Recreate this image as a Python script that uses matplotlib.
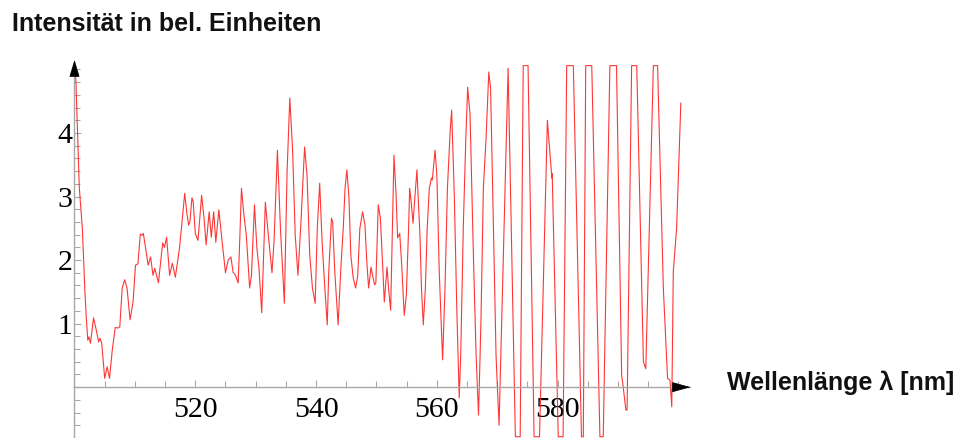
import matplotlib
matplotlib.use("Agg")
import matplotlib.pyplot as plt
from matplotlib.ticker import FixedLocator, MultipleLocator

# ---- data ----
wavelength = [
    500.2, 500.8, 501.3, 501.7, 501.95, 502.2, 502.4, 502.65, 503.15, 503.6,
    504.0, 504.2, 504.5, 505.0, 505.4, 505.8, 506.25, 506.75, 507.2, 507.5,
    507.9, 508.3, 508.7, 509.2, 509.7, 510.1, 510.5, 510.9, 511.2, 511.4,
    512.2, 512.6, 513.0, 513.3, 513.9, 514.6, 514.9, 515.25, 515.75, 516.2,
    516.7, 517.4, 517.8, 518.25, 518.6, 518.9, 519.1, 519.45, 519.65, 520.0,
    520.45, 521.05, 521.45, 521.8, 522.3, 522.65, 523.05, 523.4, 523.9, 524.5,
    525.0, 525.45, 525.9, 526.25, 526.65, 527.1, 527.35, 527.65, 528.0, 528.45,
    529.0, 529.3, 529.8, 530.2, 530.55, 531.0, 531.6, 532.1, 532.7, 533.05,
    533.6, 534.1, 534.75, 535.2, 535.65, 536.1, 536.55, 537.0, 537.5, 538.1,
    538.5, 538.95, 539.4, 539.85, 540.2, 540.6, 541.0, 541.45, 541.85, 542.1,
    542.55, 542.75, 543.1, 543.65, 544.1, 544.5, 544.8, 545.1, 545.45, 545.75,
    546.15, 546.55, 546.9, 547.25, 547.7, 548.1, 548.4, 548.7, 549.1, 549.35,
    549.7, 549.9, 550.3, 550.65, 551.0, 551.3, 551.75, 552.0, 552.35, 552.9,
    553.25, 553.5, 553.85, 554.15, 554.6, 554.95, 555.3, 555.5, 555.75, 556.05,
    556.7, 557.2, 557.45, 557.75, 558.1, 558.4, 558.75, 559.1, 559.25, 559.7,
    560.0, 560.4, 560.95, 561.35, 561.75, 562.2, 562.45, 562.9, 563.3, 563.7,
    563.95, 564.4, 564.8, 565.1, 565.5, 566.05, 566.5, 566.9, 567.3, 567.7,
    568.15, 568.6, 568.9, 569.35, 569.8, 570.3, 571.8, 573.0, 573.8, 574.3,
    575.1, 576.1, 577.0, 578.3, 578.7, 578.95, 579.05, 579.1, 580.1, 580.9,
    581.5, 582.6, 583.95, 584.25, 584.65, 585.65, 587.0, 587.55, 588.65, 589.75,
    590.6, 590.8, 591.3, 591.5, 592.25, 593.1, 594.2, 594.6, 595.85, 596.55,
    597.5, 598.2, 598.6, 598.9, 599.15, 599.7, 600.4,
]
intensity = [
    4.91, 3.13, 2.50, 1.56, 1.09, 0.74, 0.79, 0.69, 1.09, 0.90,
    0.71, 0.77, 0.70, 0.14, 0.32, 0.14, 0.58, 0.94, 0.93, 0.95,
    1.56, 1.69, 1.56, 1.06, 1.34, 1.92, 1.94, 2.41, 2.39, 2.42,
    1.92, 2.05, 1.76, 1.87, 1.64, 2.27, 2.20, 2.36, 1.76, 1.95,
    1.73, 2.20, 2.60, 3.05, 2.74, 2.55, 2.60, 2.98, 2.92, 2.42,
    2.31, 3.02, 2.66, 2.24, 2.76, 2.36, 2.76, 2.28, 2.79, 2.24,
    1.80, 2.00, 2.05, 1.81, 1.76, 1.64, 2.28, 3.13, 2.76, 2.39,
    1.56, 1.76, 2.87, 2.19, 1.87, 1.17, 2.91, 2.39, 1.80, 2.31,
    3.73, 2.50, 1.32, 3.39, 4.55, 3.76, 2.39, 1.76, 2.60, 3.78,
    3.34, 2.08, 1.56, 1.32, 2.50, 3.21, 2.28, 1.56, 0.98, 1.81,
    2.66, 2.60, 1.81, 0.98, 1.87, 2.50, 3.13, 3.42, 2.98, 2.08,
    1.72, 1.56, 1.76, 2.50, 2.76, 2.55, 1.97, 1.56, 1.89, 1.76,
    1.61, 1.64, 2.87, 2.66, 1.97, 1.34, 1.89, 1.56, 1.21, 3.65,
    3.02, 2.35, 2.42, 1.97, 1.13, 1.45, 2.44, 3.13, 2.91, 2.58,
    3.42, 2.39, 1.56, 0.98, 1.56, 2.50, 3.13, 3.29, 3.26, 3.73,
    3.34, 1.81, 0.43, 1.56, 3.13, 4.02, 4.36, 2.98, 1.24, -0.17,
    0.50, 2.60, 3.92, 4.72, 4.28, 2.08, 0.50, -0.44, 1.02, 3.13,
    3.92, 4.96, 4.70, 2.60, 0.50, -0.60, 5.02, -0.78, -0.78, 5.06,
    5.06, -0.78, -0.78, 4.20, 3.71, 3.42, 3.29, 3.36, -0.78, -0.78,
    5.06, 5.06, -0.78, -0.78, 5.06, 5.06, -0.78, -0.78, 5.06, 5.06,
    0.19, 0.05, -0.36, -0.36, 5.06, 5.06, 0.40, 0.29, 5.06, 5.06,
    1.56, 0.14, 0.11, -0.31, 1.82, 2.50, 4.47,
]
x_major = [520, 540, 560, 580]
y_major = [1, 2, 3, 4]
x_label = "Wellenlänge λ [nm]"
y_label = "Intensität in bel. Einheiten"

W, H = 959, 438
fig = plt.figure(figsize=(W / 100, H / 100), dpi=100)
ax = fig.add_axes([74.5 / W, 0, 616 / W, 373 / H])
ax.set_xlim(500, 602)
ax.set_ylim(-0.8, 5.07)

ax.plot(wavelength, intensity, color="#ff2020", lw=0.8, alpha=0.9,
        solid_joinstyle="round")

axis_gray = "#a8a8a8"
for s in ("top", "right"):
    ax.spines[s].set_visible(False)
ax.spines["bottom"].set_position(("data", 0))
ax.spines["left"].set_position(("data", 500))
for s in ("bottom", "left"):
    ax.spines[s].set_color(axis_gray)
    ax.spines[s].set_linewidth(1.0)

ax.xaxis.set_major_locator(FixedLocator(x_major))
ax.xaxis.set_minor_locator(MultipleLocator(5))
ax.yaxis.set_major_locator(FixedLocator(y_major))
ax.yaxis.set_minor_locator(MultipleLocator(0.2))

ax.tick_params(axis="both", which="major", direction="in", length=5,
               width=0.8, color=axis_gray, labelsize=21.5, labelcolor="black")
ax.tick_params(axis="both", which="minor", direction="in", length=4,
               width=0.8, color=axis_gray)
ax.tick_params(axis="x", which="major", pad=7)
ax.tick_params(axis="y", which="major", pad=1.5)
for lab in ax.get_xticklabels() + ax.get_yticklabels():
    lab.set_fontfamily("Liberation Serif")

# axis arrows
ax.annotate("", xy=(602, 0), xytext=(599.2, 0), xycoords="data",
            arrowprops=dict(arrowstyle="-|>,head_length=1.2,head_width=0.33",
                            fc="black", ec="black", lw=0.5,
                            shrinkA=0, shrinkB=0),
            annotation_clip=False)
ax.annotate("", xy=(500, 5.15), xytext=(500, 4.92), xycoords="data",
            arrowprops=dict(arrowstyle="-|>,head_length=1.1,head_width=0.33",
                            fc="black", ec="black", lw=0.5,
                            shrinkA=0, shrinkB=0),
            annotation_clip=False)

label_font = dict(family="Liberation Sans", weight="bold", size=18, color="#111111")
fig.text(12 / W, 1 - 31 / H, y_label, ha="left", va="baseline", **label_font)
fig.text(727 / W, 1 - 390 / H, x_label, ha="left", va="baseline", **label_font)

fig.savefig("out.png", dpi=100)
